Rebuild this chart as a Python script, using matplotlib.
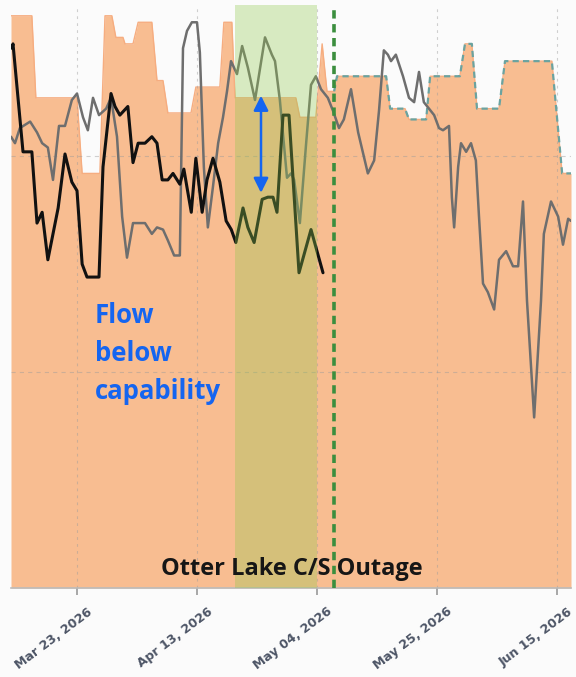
import matplotlib
matplotlib.use("Agg")
import matplotlib.pyplot as plt
import matplotlib.dates as mdates
import matplotlib.transforms as mtransforms
import numpy as np
import datetime as dt

plt.rcParams['lines.scale_dashes'] = False

# ---- data (days relative to 2026-03-23, values in chart units) ----
base_date = dt.datetime(2026, 3, 23)

cap_day = [-11.55, -7.9, -7.2, 0, 0.9, 4.0, 4.9, 6.1, 6.8, 8.05, 8.4, 9.8, 10.7, 13.1, 14.0, 15.05,
           15.9, 19.95, 20.8, 25.0, 25.7, 27.1, 27.65, 38.3, 39.0, 41.8, 42.9, 43.75, 45.0, 45.5,
           54.1, 54.8, 57.4, 58.1, 61.1, 61.8, 67.0, 67.9, 69.1, 70.0, 73.85, 74.9, 83.1, 84.9, 86.45]
cap_val = [2.65, 2.65, 2.27, 2.27, 1.92, 1.92, 2.65, 2.65, 2.55, 2.55, 2.52, 2.52, 2.62, 2.62, 2.35, 2.35,
           2.20, 2.20, 2.32, 2.32, 2.62, 2.62, 2.27, 2.27, 2.18, 2.18, 2.52, 2.30, 2.30, 2.37,
           2.37, 2.22, 2.22, 2.17, 2.17, 2.37, 2.37, 2.52, 2.52, 2.22, 2.22, 2.44, 2.44, 1.92, 1.92]

flow_day = [-11.4, -11.2, -9.45, -7.9, -7.0, -6.1, -5.1, -3.3, -2.1, -0.9, 0, 0.9, 1.75, 3.85, 4.55,
            5.95, 6.65, 7.5, 8.9, 9.8, 10.7, 11.9, 13.1, 14.0, 14.9, 15.9, 16.8, 18.0, 18.7, 20.0,
            20.8, 21.9, 22.75, 23.8, 25.0, 26.1, 27.0, 27.8, 29.05, 29.9, 31.0, 32.4, 33.4, 34.3,
            35.0, 36.05, 37.1, 38.85, 40.95, 43.05]
flow_val = [2.50, 2.52, 2.02, 2.02, 1.69, 1.74, 1.52, 1.76, 2.01, 1.88, 1.84, 1.50, 1.44, 1.44, 1.95,
            2.29, 2.23, 2.19, 2.23, 1.97, 2.06, 2.06, 2.09, 2.06, 1.89, 1.89, 1.92, 1.87, 1.94, 1.74,
            1.99, 1.74, 1.89, 1.99, 1.88, 1.70, 1.66, 1.60, 1.76, 1.67, 1.60, 1.80, 1.81, 1.81,
            1.74, 2.19, 2.19, 1.46, 1.66, 1.46]

hist_day = [-11.55, -10.85, -10.0, -8.2, -7.0, -6.1, -5.1, -4.2, -3.15, -2.1, -0.9, 0, 1.05, 1.9, 2.8,
            3.85, 5.1, 5.95, 7.0, 7.9, 8.75, 9.8, 11.9, 13.1, 14.0, 15.05, 15.9, 17.0, 18.0, 18.55,
            19.25, 20.1, 21.0, 21.5, 22.2, 22.9, 23.8, 24.7, 25.55, 26.25, 26.95, 28.0, 28.9, 29.9,
            31.15, 32.9, 34.1, 34.65, 35.5, 36.75, 37.45, 38.0, 39.0, 40.1, 40.95, 41.8, 42.7, 43.9,
            44.8, 45.85, 46.7, 47.95, 49.2, 50.9, 52.0, 52.85, 53.7, 54.4, 54.95, 55.8, 57.05, 58.1,
            59.0, 59.85, 60.7, 61.6, 62.5, 63.35, 64.05, 65.1, 65.6, 66.0, 66.7, 67.2, 68.1, 68.95,
            69.8, 70.35, 71.05, 71.9, 73.0, 73.85, 75.1, 76.3, 77.2, 78.05, 78.75, 80.0, 81.2, 81.7,
            82.95, 84.2, 85.05, 85.95, 86.45]
hist_val = [2.09, 2.06, 2.13, 2.16, 2.11, 2.06, 2.04, 1.89, 2.14, 2.14, 2.26, 2.29, 2.18, 2.12, 2.27,
            2.19, 2.22, 2.27, 2.09, 1.72, 1.53, 1.69, 1.69, 1.64, 1.67, 1.66, 1.61, 1.54, 1.54, 2.50,
            2.58, 2.62, 2.62, 2.48, 1.95, 1.67, 1.86, 2.06, 2.18, 2.30, 2.44, 2.38, 2.51, 2.41,
            2.26, 2.55, 2.47, 2.44, 2.26, 1.90, 1.92, 1.89, 1.69, 2.06, 2.33, 2.37, 2.31, 2.27,
            2.21, 2.13, 2.17, 2.31, 2.11, 1.92, 1.98, 2.21, 2.49, 2.47, 2.44, 2.47, 2.37, 2.27,
            2.25, 2.39, 2.25, 2.22, 2.19, 2.13, 2.12, 2.14, 1.81, 1.67, 1.95, 2.06, 2.02, 2.06,
            1.98, 1.72, 1.41, 1.37, 1.29, 1.52, 1.56, 1.49, 1.49, 1.79, 1.33, 0.79, 1.33, 1.64,
            1.79, 1.72, 1.59, 1.71, 1.70]

outage_start, outage_end = 27.65, 42.0
outage_marker = 45.0
forecast_from = 45.0
tick_labels = ["Mar 23, 2026", "Apr 13, 2026", "May 04, 2026", "May 25, 2026", "Jun 15, 2026"]
tick_days = [0, 21, 42, 63, 84]
note_lines = ["Flow", "below", "capability"]
outage_label = "Otter Lake C/S Outage"
x_range = (-11.55, 86.45)
y_range = (0, 2.70)

# ---- plotting ----
b = mdates.date2num(base_date)
def X(days):
    return b + np.asarray(days, dtype=float)

fig = plt.figure(figsize=(5.76, 6.77), dpi=100, facecolor='#fbfbfb')
ax = fig.add_axes([11/576, 1-588/677, 560/576, 583/677])
ax.set_facecolor('#fbfbfb')

cx = X(cap_day)
ax.fill_between(cx, 0, cap_val, color='#f8bd91', lw=0, zorder=1)
ax.plot(cx, cap_val, color='#f6ad80', lw=1.0, zorder=1.5)
cd = np.array(cap_day); cv = np.array(cap_val)
m = cd >= forecast_from
ax.plot(X(np.r_[forecast_from, cd[m]]), np.r_[np.interp(forecast_from, cd, cv), cv[m]],
        color='#6aa3a0', lw=1.6, dashes=(4.5, 3), zorder=3)

for t in tick_days:
    ax.axvline(X(t), color='#9a9a9a', lw=0.8, ls=(0, (2, 3)), alpha=0.45, zorder=2)
for yv in (1, 2):
    ax.axhline(yv, color='#9a9a9a', lw=0.8, ls=(0, (3, 3)), alpha=0.45, zorder=2)

ax.plot(X(hist_day), hist_val, color='#6e6e6e', lw=1.8, zorder=4,
        solid_capstyle='round', solid_joinstyle='round')
ax.plot(X(flow_day), flow_val, color='#111111', lw=2.2, zorder=5,
        solid_capstyle='round', solid_joinstyle='round')

ax.axvspan(X(outage_start), X(outage_end), color='#90c84c', alpha=0.33, lw=0, zorder=6)
ax.axvline(X(outage_marker), color='#3b8e3e', lw=2.6, dashes=(6, 4), zorder=7)

ax.annotate('', xy=(X(32.2), 1.83), xytext=(X(32.2), 2.28),
            arrowprops=dict(arrowstyle='<|-|>', color='#1565f0', lw=1.8, mutation_scale=22,
                            shrinkA=0, shrinkB=0), zorder=8)

for line, yv in zip(note_lines, [1.227, 1.051, 0.875]):
    ax.text(X(3.15), yv, line, color='#1565f0', fontsize=18.5, fontweight='bold',
            family=['Open Sans', 'DejaVu Sans'], va='baseline', ha='left', zorder=9)
ax.text(X(37.6), 0.06, outage_label, color='#161616', fontsize=17,
        fontweight='bold', family=['Open Sans', 'DejaVu Sans'], va='baseline', ha='center', zorder=9)

ax.set_xlim(X(x_range[0]), X(x_range[1]))
ax.set_ylim(*y_range)
ax.set_yticks([])
ax.tick_params(axis='x', length=5, color='#999999', width=1.2, pad=3)
ax.set_xticks(X(tick_days))
ax.set_xticklabels(tick_labels, rotation=37, ha='right', va='top', rotation_mode='anchor',
                   fontsize=9, color='#4d5566', fontweight='bold')
offset = mtransforms.ScaledTranslation(10/100, -6/100, fig.dpi_scale_trans)
for lbl in ax.get_xticklabels():
    lbl.set_transform(lbl.get_transform() + offset)
for s in ('top', 'left', 'right'):
    ax.spines[s].set_visible(False)
ax.spines['bottom'].set_color('#bbbbbb')
ax.spines['bottom'].set_linewidth(1.2)

fig.savefig('out.png', dpi=100, facecolor=fig.get_facecolor())
